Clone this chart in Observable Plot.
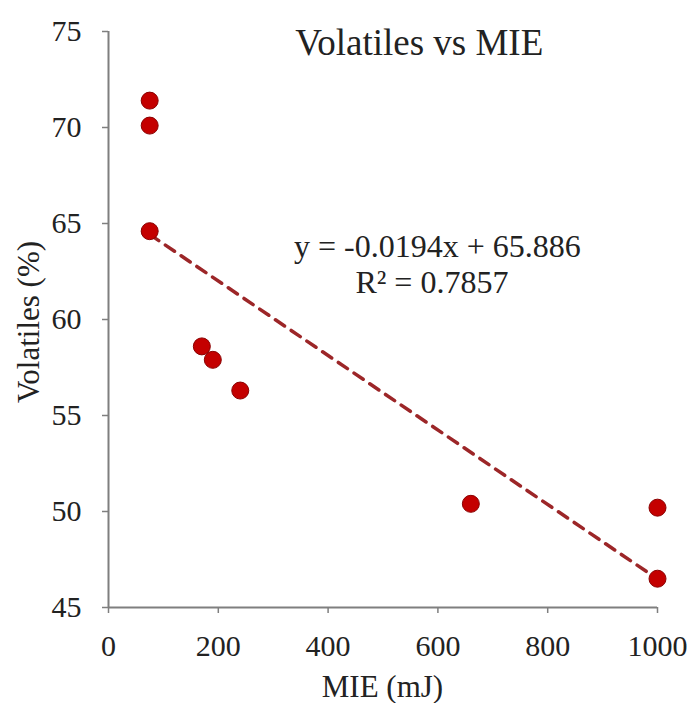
<!DOCTYPE html>
<html>
<head>
<meta charset="utf-8">
<script src="https://cdn.jsdelivr.net/npm/d3@7"></script>
<script src="https://cdn.jsdelivr.net/npm/@observablehq/plot@0.6"></script>
<style>
  html, body { margin: 0; padding: 0; background: #fff; }
</style>
</head>
<body>
<div id="chart"></div>
<script>
// Data
const mie = [75, 75, 75, 170, 190, 240, 660, 1000, 1000];
const volatiles = [71.4, 70.1, 64.6, 58.6, 57.9, 56.3, 50.4, 50.2, 46.5];
const xTicks = [0, 200, 400, 600, 800, 1000];
const yTicks = [45, 50, 55, 60, 65, 70, 75];
const trendSlope = -0.0194;
const trendIntercept = 65.886;
const trendRange = [75, 1000];
const titleText = "Volatiles vs MIE";
const eqText = "y = -0.0194x + 65.886";
const r2Text = "R² = 0.7857";
const xLabel = "MIE (mJ)";
const yLabel = "Volatiles (%)";

const points = mie.map((x, i) => ({x, y: volatiles[i]}));
const trend = trendRange.map(x => ({x, y: trendSlope * x + trendIntercept}));

const font = "'Liberation Serif', 'Times New Roman', serif";
const axisGray = "#7f7f7f";
const textColor = "#222";

const chart = Plot.plot({
  width: 694,
  height: 703,
  marginLeft: 108,
  marginRight: 37,
  marginTop: 31,
  marginBottom: 96,
  style: {fontFamily: font, background: "#fff", color: textColor},
  x: {domain: [0, 1000]},
  y: {domain: [45, 75]},
  marks: [
    Plot.ruleX([0], {stroke: axisGray, strokeWidth: 2}),
    Plot.ruleY([45], {stroke: axisGray, strokeWidth: 2}),
    Plot.axisX({ticks: xTicks, tickSize: 6, stroke: axisGray, strokeWidth: 1.5, text: null, label: null}),
    Plot.axisX({ticks: xTicks, tickSize: 0, tickPadding: 27, tickFormat: d => String(d), fontSize: 30, fill: textColor, label: null}),
    Plot.axisY({ticks: yTicks, tickSize: 6, stroke: axisGray, strokeWidth: 1.5, text: null, label: null}),
    Plot.axisY({ticks: yTicks, tickSize: 0, tickPadding: 27, fontSize: 30, fill: textColor, label: null}),
    Plot.line(trend, {x: "x", y: "y", stroke: "#9c2628", strokeWidth: 3.5, strokeDasharray: "11,8"}),
    Plot.dot(points, {x: "x", y: "y", r: 8.5, fill: "#c40000", stroke: "#8a0000", strokeWidth: 1})
  ]
});

// Annotations positioned through the chart's scales
const xs = chart.scale("x"), ys = chart.scale("y");
const svg = d3.select(chart);
const ann = svg.append("g").attr("font-family", font).attr("fill", textColor).attr("text-anchor", "middle");
ann.append("text").attr("x", xs.apply(567)).attr("y", ys.apply(73.75)).attr("font-size", 37).text(titleText);
ann.append("text").attr("x", xs.apply(600)).attr("y", ys.apply(63.25)).attr("font-size", 32).text(eqText);
ann.append("text").attr("x", xs.apply(590)).attr("y", ys.apply(61.35)).attr("font-size", 32).text(r2Text);
// axis titles
ann.append("text").attr("x", (xs.range[0] + xs.range[1]) / 2).attr("y", 697).attr("font-size", 31).text(xLabel);
ann.append("text").attr("transform", `translate(39,${(ys.range[0] + ys.range[1]) / 2 + 3}) rotate(-90)`).attr("font-size", 31).text(yLabel);

document.getElementById("chart").appendChild(chart);
</script>
</body>
</html>
